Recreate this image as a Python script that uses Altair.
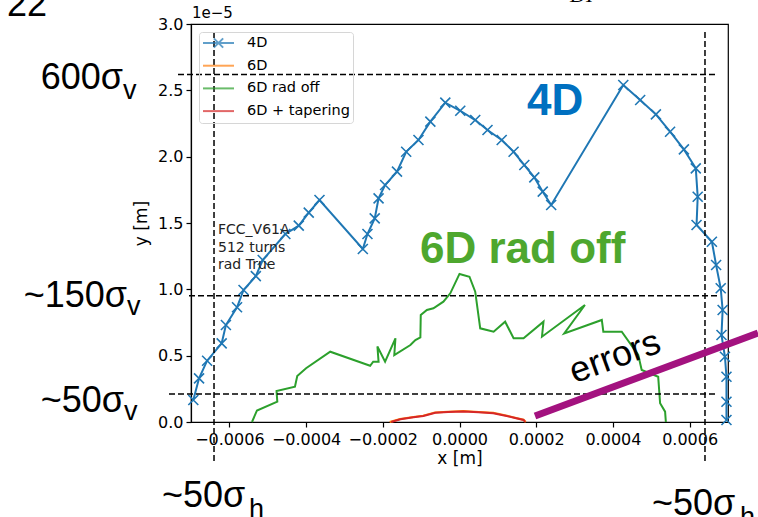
import altair as alt
import pandas as pd

# ---- series (x in metres, y in units of 1e-5 m) ----
SERIES = ["4D", "6D", "6D rad off", "6D + tapering"]
COLORS = ["#1f77b4", "#ff7f0e", "#2ca02c", "#d62728"]

x_4d = [-0.000694, -0.000679, -0.000658, -0.000620, -0.000609, -0.000580, -0.000563,
        -0.000531, -0.000513, -0.000454, -0.000419, -0.000393, -0.000365, -0.000252,
        -0.000240, -0.000221, -0.000211, -0.000194, -0.000163, -0.000139, -0.000107,
        -0.000076, -0.000037, 0.000002, 0.000041, 0.000073, 0.000110, 0.000141,
        0.000169, 0.000195, 0.000217, 0.000239, 0.000427, 0.000471, 0.000512,
        0.000549, 0.000585, 0.000616, 0.000621, 0.000618, 0.000658, 0.000669,
        0.000681, 0.000686, 0.000683, 0.000692, 0.000696, 0.000696, 0.000696]
y_4d = [0.166, 0.329, 0.462, 0.593, 0.731, 0.865, 0.995, 1.100, 1.221, 1.417, 1.480,
        1.578, 1.673, 1.304, 1.417, 1.535, 1.686, 1.786, 1.887, 2.037, 2.126, 2.264,
        2.407, 2.346, 2.276, 2.201, 2.126, 2.037, 1.937, 1.844, 1.736, 1.636, 2.540,
        2.427, 2.319, 2.188, 2.055, 1.912, 1.698, 1.485, 1.359, 1.183, 1.008, 0.844,
        0.656, 0.492, 0.341, 0.153, 0.015]

x_6d = [-0.000182, -0.000155, -0.000120, -0.000095, -0.000064, -0.000030, 0.000010,
        0.000050, 0.000088, 0.000124, 0.000145, 0.000167, 0.000173]
y_6d = [0.000, 0.022, 0.037, 0.048, 0.072, 0.077, 0.082, 0.076, 0.069, 0.047,
        0.032, 0.017, 0.000]

x_radoff = [-0.000541, -0.000528, -0.000475, -0.000477, -0.000429, -0.000423, -0.000400,
            -0.000337, -0.000233, -0.000225, -0.000211, -0.000214, -0.000194, -0.000167,
            -0.000170, -0.000128, -0.000115, -0.000102, -0.000101, -0.000085, -0.000068,
            -0.000042, -0.000024, 0.000000, 0.000026, 0.000041, 0.000054, 0.000089,
            0.000119, 0.000141, 0.000167, 0.000219, 0.000215, 0.000327, 0.000273,
            0.000371, 0.000375, 0.000423, 0.000466, 0.000475, 0.000518, 0.000523,
            0.000536, 0.000538]
y_radoff = [0.000, 0.087, 0.153, 0.234, 0.266, 0.347, 0.405, 0.530, 0.424, 0.455, 0.455,
            0.569, 0.455, 0.631, 0.505, 0.580, 0.618, 0.638, 0.807, 0.844, 0.857, 0.907,
            0.970, 1.116, 1.095, 0.982, 0.706, 0.681, 0.756, 0.631, 0.631, 0.756, 0.643,
            0.882, 0.667, 0.769, 0.681, 0.681, 0.505, 0.392, 0.341, 0.141, 0.078, 0.000]

x_taper = [-0.000178, -0.000154, -0.000120, -0.000094, -0.000063, -0.000030, 0.000010,
           0.000050, 0.000088, 0.000123, 0.000145, 0.000167, 0.000171]
y_taper = [0.000, 0.020, 0.035, 0.045, 0.070, 0.075, 0.079, 0.074, 0.066, 0.045,
           0.030, 0.015, 0.000]

# reference levels drawn as dashed guides
level_600 = 2.62
level_150 = 0.952
level_50 = 0.211
level_h = 0.00064

x_ticks = [-0.0006, -0.0004, -0.0002, 0.0, 0.0002, 0.0004, 0.0006]
y_ticks = [0.0, 0.5, 1.0, 1.5, 2.0, 2.5, 3.0]

rows = []
for name, xs, ys in [("4D", x_4d, y_4d), ("6D", x_6d, y_6d),
                     ("6D rad off", x_radoff, y_radoff), ("6D + tapering", x_taper, y_taper)]:
    for i, (xv, yv) in enumerate(zip(xs, ys)):
        rows.append({"series": name, "x": xv, "y": yv, "i": i})
df = pd.DataFrame(rows)
one = pd.DataFrame({"k": [0]})

MPL = "DejaVu Sans"
SANS = "Liberation Sans"

xscale = alt.Scale(domain=[-0.0007, 0.0007], nice=False, zero=False)
yscale = alt.Scale(domain=[0, 3], nice=False, zero=False)
cscale = alt.Scale(domain=SERIES, range=COLORS)

LEG_LINE = "M-1,0L1,0"
LEG_X = "M-1,0L1,0M-0.3,-0.3L0.3,0.3M-0.3,0.3L0.3,-0.3"
sscale = alt.Scale(domain=SERIES, range=[LEG_X, LEG_LINE, LEG_LINE, LEG_LINE])

legend = alt.Legend(
    title=None, orient="none", legendX=8, legendY=8,
    symbolSize=961, symbolStrokeWidth=2, symbolFillColor="transparent",
    labelFont=MPL, labelFontSize=14.5, labelColor="black", labelOffset=12,
    labelLimit=300, padding=3, rowPadding=6.7, clipHeight=16,
    strokeColor="#d6d6d6", cornerRadius=3,
)

xaxis = alt.Axis(values=x_ticks, format=".4f", title="x [m]", titlePadding=3, labelPadding=4)
yaxis = alt.Axis(values=y_ticks, format=".1f", title="y [m]", titlePadding=7, labelPadding=3)

X = alt.X("x:Q", scale=xscale, axis=xaxis)
Y = alt.Y("y:Q", scale=yscale, axis=yaxis)

lines = alt.Chart(df).mark_line(strokeWidth=2).encode(
    x=X, y=Y,
    color=alt.Color("series:N", scale=cscale, legend=legend),
    detail="series:N",
    order=alt.Order("i:Q"),
)

markers = alt.Chart(df).transform_filter(alt.datum.series == "4D").mark_point(
    shape="M-1,-1L1,1M-1,1L1,-1", size=100, strokeWidth=1.6, filled=False,
    color=COLORS[0], opacity=1,
).encode(x=X, y=Y)

# legend keys only (no rows drawn)
legend_keys = alt.Chart(df).transform_filter("false").mark_point(filled=False).encode(
    x=X, y=Y,
    color=alt.Color("series:N", scale=cscale, legend=legend),
    shape=alt.Shape("series:N", scale=sscale, legend=legend),
)

dash = dict(color="black", strokeDash=[6, 3], strokeWidth=1.5)


def hline(level, x0):
    return alt.Chart(one).mark_rule(**dash).encode(
        y=alt.datum(level, scale=yscale, axis=yaxis), x=alt.value(x0), x2=alt.value(527))


def vline(level):
    return alt.Chart(one).mark_rule(**dash).encode(
        x=alt.datum(level, scale=xscale, axis=xaxis), y=alt.value(8), y2=alt.value(439))


guides = [hline(level_600, -13), hline(level_150, -2), hline(level_50, -22),
          vline(-level_h), vline(level_h)]


def label(text, x, y, size, font=SANS, color="black", align="left", weight="normal",
          baseline="alphabetic", angle=0, style="normal"):
    props = dict(text=text, fontSize=size, font=font, color=color, align=align,
                 fontWeight=weight, baseline=baseline, fontStyle=style)
    if angle:
        props["angle"] = angle
    return alt.Chart(one).mark_text(**props).encode(x=alt.value(x), y=alt.value(y))


notes = [
    label("1e\u22125", 1, -6, 15, font=MPL),
    alt.Chart(one).mark_text(text=["FCC_V61A", "512 turns", "rad True"], font=MPL,
                             fontSize=14, color="#222222", align="left",
                             baseline="alphabetic", lineHeight=17.5).encode(
        x=alt.value(27), y=alt.value(210)),
    label("4D", 336, 91, 44, color="#0070C0", weight="bold"),
    label("6D rad off", 229, 239, 44, color="#4EA72E", weight="bold"),
    label("errors", 424, 333, 36, baseline="middle", align="center", angle=340),
    label("600\u03c3", -68, 65, 36, align="right"),
    label("v", -68, 75, 27),
    label("~150\u03c3", -64, 283, 36, align="right"),
    label("v", -64, 291, 27),
    label("~50\u03c3", -67, 388, 36, align="right"),
    label("v", -67, 396, 27),
    label("~50\u03c3", -29, 483, 36),
    label("h", 58, 494, 27),
    label("~50\u03c3", 461, 491, 36),
    label("h", 549, 502, 27),
    label("22", -184, -8, 36),
    label("DI", 379, -22, 22, font="Liberation Serif", style="italic"),
]

errors_bar = alt.Chart(one).mark_rule(color="#A3127F", strokeWidth=7, strokeCap="butt").encode(
    x=alt.value(344), y=alt.value(392), x2=alt.value(567), y2=alt.value(309))

chart = alt.layer(lines, markers, legend_keys, *guides, errors_bar, *notes).properties(
    width=537, height=398,
    autosize=alt.AutoSizeParams(type="none"),
    padding={"left": 191, "top": 24, "right": 30, "bottom": 95},
    background="white",
).configure_view(stroke="black", strokeWidth=1.2).configure_axis(
    grid=False, tickSize=5, tickColor="black", tickWidth=1.2,
    domainColor="black", domainWidth=1.2,
    labelFont=MPL, labelFontSize=16, labelColor="black",
    titleFont=MPL, titleFontSize=17, titleFontWeight="normal", titleColor="black",
).resolve_scale(color="shared", shape="shared")

chart.save("out.html", embed_options={"renderer": "svg", "actions": False})
